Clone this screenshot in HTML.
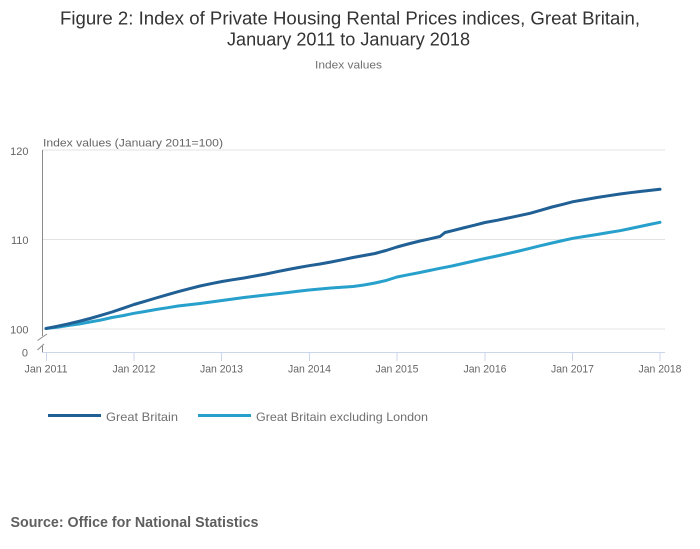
<!DOCTYPE html>
<html>
<head>
<meta charset="utf-8">
<style>
html,body{margin:0;padding:0;background:#fff;}
svg{display:block;}
text{font-family:"Liberation Sans",sans-serif;}
</style>
</head>
<body>
<svg width="700" height="549" viewBox="0 0 700 549" xmlns="http://www.w3.org/2000/svg">
<rect width="700" height="549" fill="#fff"/>
<!-- Title -->
<text x="60" y="24.5" font-size="18" fill="#333" textLength="580" lengthAdjust="spacingAndGlyphs">Figure 2: Index of Private Housing Rental Prices indices, Great Britain,</text>
<text x="227" y="45.5" font-size="18" fill="#333" textLength="243" lengthAdjust="spacingAndGlyphs">January 2011 to January 2018</text>
<text x="315" y="68.5" font-size="11" fill="#707070" textLength="67" lengthAdjust="spacingAndGlyphs">Index values</text>

<!-- gridlines -->
<line x1="42" y1="150" x2="665" y2="150" stroke="#e3e3e3" stroke-width="1"/>
<line x1="42" y1="239.5" x2="665" y2="239.5" stroke="#e3e3e3" stroke-width="1"/>
<line x1="42" y1="329" x2="665" y2="329" stroke="#e3e3e3" stroke-width="1"/>

<!-- y axis line with break -->
<line x1="42.5" y1="150" x2="42.5" y2="336" stroke="#8a8a8a" stroke-width="1"/>
<line x1="37.5" y1="340.5" x2="47" y2="334" stroke="#8a8a8a" stroke-width="1"/>
<line x1="37.5" y1="350" x2="44" y2="344" stroke="#8a8a8a" stroke-width="1"/>
<line x1="42.5" y1="346" x2="42.5" y2="352" stroke="#8a8a8a" stroke-width="1"/>

<!-- x axis -->
<line x1="42" y1="352.5" x2="665" y2="352.5" stroke="#ccd6eb" stroke-width="1"/>
<g stroke="#ccd6eb" stroke-width="1">
<line x1="46.5" y1="352" x2="46.5" y2="361"/>
<line x1="134" y1="352" x2="134" y2="361"/>
<line x1="221.5" y1="352" x2="221.5" y2="361"/>
<line x1="309.5" y1="352" x2="309.5" y2="361"/>
<line x1="397" y1="352" x2="397" y2="361"/>
<line x1="485" y1="352" x2="485" y2="361"/>
<line x1="572.5" y1="352" x2="572.5" y2="361"/>
<line x1="660" y1="352" x2="660" y2="361"/>
</g>

<!-- y labels -->
<g font-size="11" fill="#666" text-anchor="end">
<text x="28.5" y="155">120</text>
<text x="28.5" y="244">110</text>
<text x="28.5" y="333.5">100</text>
<text x="28" y="356.5">0</text>
</g>
<text x="43" y="146.5" font-size="11" fill="#666" textLength="180" lengthAdjust="spacingAndGlyphs">Index values (January 2011=100)</text>

<!-- x labels -->
<g font-size="11" fill="#666">
<text x="24.5" y="372.5" textLength="43" lengthAdjust="spacingAndGlyphs">Jan 2011</text>
<text x="112.5" y="372.5" textLength="43" lengthAdjust="spacingAndGlyphs">Jan 2012</text>
<text x="200" y="372.5" textLength="43" lengthAdjust="spacingAndGlyphs">Jan 2013</text>
<text x="288" y="372.5" textLength="43" lengthAdjust="spacingAndGlyphs">Jan 2014</text>
<text x="375.5" y="372.5" textLength="43" lengthAdjust="spacingAndGlyphs">Jan 2015</text>
<text x="463.5" y="372.5" textLength="43" lengthAdjust="spacingAndGlyphs">Jan 2016</text>
<text x="551" y="372.5" textLength="43" lengthAdjust="spacingAndGlyphs">Jan 2017</text>
<text x="638.5" y="372.5" textLength="43" lengthAdjust="spacingAndGlyphs">Jan 2018</text>
</g>

<!-- series: GB excluding London -->
<polyline fill="none" stroke="#27a0cc" stroke-width="3" stroke-linejoin="round" stroke-linecap="round"
points="46,328.5 57,327.3 68,325.5 79,324 90,322 101,320 112,317.5 123,315.6 134,313.3 145,311.5 156,309.5 167,307.8 178,306 189,304.8 200,303.5 211,302 222,300.5 233,299 244,297.5 255,296.3 266,295 277,293.7 288,292.5 298,291.3 309,290 320,289 331,288 342,287.3 353,286.5 364,285 375,283 386,280.5 397,277 408,274.8 420,272.5 430,270.4 440,268.3 452,266 463,263.5 474,261 485,258.5 497,256 508,253.5 519,251 530,248.3 541,245.6 552,243 563,240.5 573,238.3 585,236.4 597,234.5 608,232.6 620,230.7 630,228.6 640,226.5 650,224.4 660,222.3"/>
<!-- series: Great Britain -->
<polyline fill="none" stroke="#206095" stroke-width="3" stroke-linejoin="round" stroke-linecap="round"
points="46,328.5 57,326.3 68,324 79,321.3 90,318.5 101,315.3 112,312 123,308.3 134,304.5 145,301.3 156,298 167,294.8 178,291.7 189,288.8 200,286 211,283.7 222,281.5 233,279.7 244,278 255,276 266,274 277,271.7 288,269.5 298,267.6 309,265.7 320,264 331,262 342,259.8 353,257.5 364,255.5 375,253.5 386,250.5 397,247 408,244 420,241 430,238.8 440,236.5 445,232.5 454,230.3 463,228 474,225.3 485,222.5 497,220.3 508,218 519,215.7 530,213.3 541,210.2 552,207 563,204.3 573,201.7 585,199.6 597,197.5 608,195.8 620,194 630,192.7 640,191.5 650,190.4 660,189.3"/>

<!-- legend -->
<line x1="48" y1="415.5" x2="101" y2="415.5" stroke="#206095" stroke-width="3"/>
<text x="106" y="421" font-size="12" fill="#707070" textLength="72" lengthAdjust="spacingAndGlyphs">Great Britain</text>
<line x1="198" y1="415.5" x2="251" y2="415.5" stroke="#27a0cc" stroke-width="3"/>
<text x="256" y="421" font-size="12" fill="#707070" textLength="172" lengthAdjust="spacingAndGlyphs">Great Britain excluding London</text>

<!-- source -->
<text x="10.5" y="527" font-size="14.5" font-weight="bold" fill="#5f5f5f" textLength="248" lengthAdjust="spacingAndGlyphs">Source: Office for National Statistics</text>
</svg>
</body>
</html>
